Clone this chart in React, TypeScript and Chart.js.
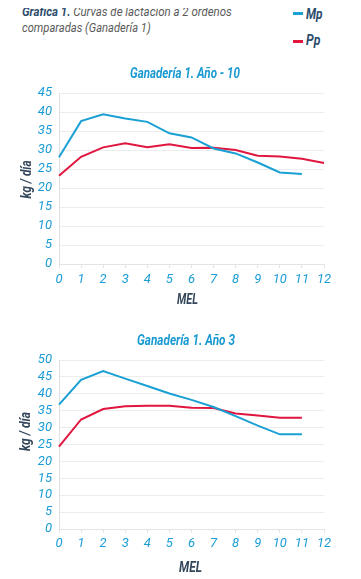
import React, { useEffect, useLayoutEffect, useRef } from "react";
import { Chart, registerables } from "chart.js";

Chart.register(...registerables);

const months = ["0", "1", "2", "3", "4", "5", "6", "7", "8", "9", "10", "11", "12"];

const mp10 = [28.1, 37.6, 39.4, 38.3, 37.4, 34.4, 33.3, 30.4, 29.1, 26.7, 24.1, 23.7, null];
const pp10 = [23.2, 28.2, 30.7, 31.8, 30.7, 31.5, 30.5, 30.6, 30.0, 28.5, 28.3, 27.7, 26.6];

const mp3 = [36.8, 44.1, 46.7, 44.5, 42.3, 40.1, 38.2, 36.1, 33.4, 30.6, 28.0, 28.0, null];
const pp3 = [24.4, 32.4, 35.5, 36.3, 36.5, 36.5, 35.9, 35.8, 34.2, 33.6, 32.9, 32.9, null];

const FONT = "Roboto, 'Liberation Sans', sans-serif";
const BLUE = "#1aa0d4";
const RED = "#e0163f";
const TICK = "#1a9cd6";
const DARK = "#34475c";
const NAVY = "#2e4d6e";

type TextItem = { text: string; x: number; y: number; w: number; rot?: boolean; font: string; color: string };

const condensedText = {
  id: "condensedText",
  afterDraw(chart: any, _args: any, opts: any) {
    const ctx = chart.ctx as CanvasRenderingContext2D;
    const items: TextItem[] = opts.items || [];
    for (const t of items) {
      ctx.save();
      ctx.font = t.font;
      const m = ctx.measureText(t.text).width;
      const s = t.w / m;
      ctx.translate(t.x, t.y);
      if (t.rot) ctx.rotate(-Math.PI / 2);
      ctx.scale(s, 1);
      ctx.textAlign = "center";
      ctx.textBaseline = "middle";
      ctx.fillStyle = t.color;
      ctx.fillText(t.text, 0, 0);
      ctx.restore();
    }
  },
};

type Props = {
  title: string;
  mp: (number | null)[];
  pp: (number | null)[];
  yMax: number;
  height: number;
  top: number;
  xHeight: number;
  tickPad: number;
  items: TextItem[];
};

function LineChart({ title, mp, pp, yMax, height, top, xHeight, tickPad, items }: Props) {
  const ref = useRef<HTMLCanvasElement>(null);
  useEffect(() => {
    if (!ref.current) return;
    const chart = new Chart(ref.current, {
      type: "line",
      data: {
        labels: months,
        datasets: [
          { label: "Mp", data: mp, borderColor: BLUE, borderWidth: 2, pointRadius: 0, tension: 0, fill: false },
          { label: "Pp", data: pp, borderColor: RED, borderWidth: 2, pointRadius: 0, tension: 0, fill: false },
        ],
      },
      options: {
        animation: false,
        responsive: false,
        maintainAspectRatio: false,
        layout: { padding: { left: 0, right: 37, top, bottom: 0 } },
        plugins: {
          legend: { display: false },
          tooltip: { enabled: false },
          title: { display: false, text: title },
          condensedText: { items },
        } as any,
        scales: {
          x: {
            type: "category",
            offset: false,
            grid: { display: true, drawOnChartArea: false, drawTicks: true, tickLength: 4, color: "#e4e4e4" },
            border: { display: true, color: "#e4e4e4" },
            ticks: {
              color: TICK,
              font: { family: FONT, size: 13, style: "italic" },
              padding: tickPad,
              maxRotation: 0,
              autoSkip: false,
            },
            afterFit: (s: any) => { s.height = xHeight; },
          },
          y: {
            min: 0,
            max: yMax,
            grid: { color: "#ececec", drawTicks: false },
            border: { display: true, color: "#e0e0e0" },
            ticks: {
              stepSize: 5,
              autoSkip: false,
              color: TICK,
              font: { family: FONT, size: 13, style: "italic" },
              padding: 7,
            },
            afterFit: (s: any) => { s.width = 59; },
          },
        },
      },
      plugins: [condensedText],
    });
    return () => chart.destroy();
  }, []);
  return <canvas ref={ref} width={361} height={height} style={{ display: "block", width: 361, height }} />;
}

function CText({ text, left, top, w, size, bold, color, lh }: { text: React.ReactNode; left: number; top: number; w: number; size: number; bold?: boolean; color: string; lh: number }) {
  const ref = useRef<HTMLSpanElement>(null);
  useLayoutEffect(() => {
    const el = ref.current;
    if (!el) return;
    el.style.transform = "none";
    const ow = el.offsetWidth;
    if (ow > 0) el.style.transform = `scaleX(${w / ow})`;
  }, []);
  return (
    <span
      ref={ref}
      style={{
        position: "absolute",
        left,
        top,
        display: "inline-block",
        whiteSpace: "nowrap",
        transformOrigin: "left center",
        fontFamily: FONT,
        fontStyle: "italic",
        fontWeight: bold ? "bold" : "normal",
        fontSize: size,
        lineHeight: `${lh}px`,
        color,
      }}
    >
      {text}
    </span>
  );
}

const titleFont = `italic bold 14px ${FONT}`;
const axisFont = `italic bold 15px ${FONT}`;

export default function App() {
  return (
    <div style={{ position: "relative", width: 361, height: 579, margin: "-8px 0 0 -8px", background: "#fff", overflow: "hidden" }}>
      <CText
        text={<><span style={{ fontWeight: "bold", color: NAVY }}>Gráfica 1.</span> Curvas de lactación a 2 ordeños</>}
        left={22} top={4} w={210} size={13} color="#5a5a5a" lh={16}
      />
      <CText text="comparadas (Ganadería 1)" left={22} top={20} w={129} size={13} color="#5a5a5a" lh={16} />
      <div style={{ position: "absolute", left: 293, top: 12, width: 10, height: 3, background: BLUE }} />
      <CText text="Mp" left={306} top={7} w={17} size={14} bold color={NAVY} lh={14} />
      <div style={{ position: "absolute", left: 293, top: 39.5, width: 10, height: 3, background: RED }} />
      <CText text="Pp" left={306} top={32.5} w={14} size={14} bold color={NAVY} lh={14} />
      <div style={{ position: "absolute", left: 0, top: 60 }}>
        <LineChart
          title="Ganadería 1. Año - 10"
          mp={mp10}
          pp={pp10}
          yMax={45}
          height={250}
          top={33}
          xHeight={46}
          tickPad={4}
          items={[
            { text: "Ganadería 1. Año - 10", x: 185, y: 14, w: 110, font: titleFont, color: "#1a9ad2" },
            { text: "kg / día", x: 27.5, y: 119.5, w: 38, rot: true, font: axisFont, color: DARK },
            { text: "MEL", x: 187.5, y: 240.5, w: 21, font: axisFont, color: DARK },
          ]}
        />
      </div>
      <div style={{ position: "absolute", left: 0, top: 325 }}>
        <LineChart
          title="Ganadería 1. Año 3"
          mp={mp3}
          pp={pp3}
          yMax={50}
          height={254}
          top={35}
          xHeight={50}
          tickPad={3}
          items={[
            { text: "Ganadería 1. Año 3", x: 186, y: 16, w: 98, font: titleFont, color: "#1a9ad2" },
            { text: "kg / día", x: 26.5, y: 106.5, w: 39, rot: true, font: axisFont, color: DARK },
            { text: "MEL", x: 190.5, y: 243, w: 23, font: axisFont, color: DARK },
          ]}
        />
      </div>
    </div>
  );
}
